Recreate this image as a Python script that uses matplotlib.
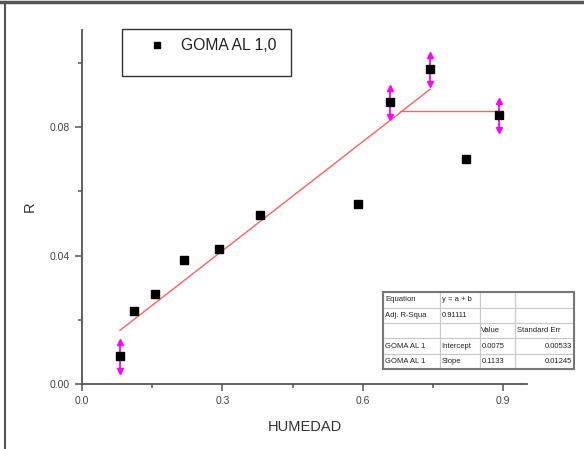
import matplotlib
matplotlib.use("Agg")
import matplotlib.pyplot as plt
from matplotlib.patches import Rectangle
from matplotlib.lines import Line2D

plt.rcParams['font.family'] = ['Liberation Sans', 'DejaVu Sans']

# data
humedad = [0.081, 0.111, 0.156, 0.218, 0.293, 0.381, 0.590, 0.659, 0.744, 0.821, 0.892]
r_vals = [0.0087, 0.0227, 0.0280, 0.0386, 0.0420, 0.0526, 0.0560, 0.0878, 0.0980, 0.0700, 0.0837]
err_x = [0.081, 0.659, 0.744, 0.892]
err_y = [0.0087, 0.0878, 0.0980, 0.0837]
err_size = [0.0045, 0.0045, 0.0045, 0.0045]

intercept = 0.0075
slope = 0.1133
fit_x = [0.081, 0.744]
plateau_x = [0.68, 0.892]
plateau_y = 0.085

table_rows = [
    ["Equation", "y = a + b", "", ""],
    ["Adj. R-Squa", "0.91111", "", ""],
    ["", "", "Value", "Standard Err"],
    ["GOMA AL 1", "Intercept", "0.0075", "0.00533"],
    ["GOMA AL 1", "Slope", "0.1133", "0.01245"],
]

grey = '#555555'
fig = plt.figure(figsize=(5.84, 4.49), dpi=100)
ax = fig.add_axes([0.1404, 0.1448, 0.762, 0.788])

# fit lines
ax.plot(fit_x, [intercept + slope * x for x in fit_x], color='#ff6060', lw=1.0, zorder=2)
ax.plot(plateau_x, [plateau_y, plateau_y], color='#ff6060', lw=1.0, zorder=2)

# error bars with arrow heads
for x, y, e in zip(err_x, err_y, err_size):
    ax.plot([x, x], [y - e, y + e], color='#ff00ff', lw=1.3, zorder=3)
    ax.plot(x, y + e, marker='^', color='#ff00ff', ms=4, zorder=3)
    ax.plot(x, y - e, marker='v', color='#ff00ff', ms=4, zorder=3)

ax.plot(humedad, r_vals, 's', color='black', ms=5.3, zorder=4)

ax.set_xlim(0, 0.951)
ax.set_ylim(0, 0.1102)
ax.set_xticks([0.0, 0.3, 0.6, 0.9])
ax.set_xticklabels(['0.0', '0.3', '0.6', '0.9'])
ax.set_xticks([0.15, 0.45, 0.75], minor=True)
ax.set_yticks([0.0, 0.04, 0.08])
ax.set_yticklabels(['0.00', '0.04', '0.08'])
ax.set_yticks([0.02, 0.06, 0.10], minor=True)
for s in ['top', 'right']:
    ax.spines[s].set_visible(False)
for s in ['left', 'bottom']:
    ax.spines[s].set_color(grey)
    ax.spines[s].set_linewidth(1.3)
ax.tick_params(which='major', length=5, width=1.1, color=grey, labelsize=7.5,
               labelcolor='#444444', pad=4)
ax.tick_params(which='minor', length=3, width=1.1, color=grey)
ax.set_xlabel('HUMEDAD', fontsize=10.5, color='#333333', labelpad=10)
ax.set_ylabel('R', fontsize=10.5, color='#333333', labelpad=9)

# legend box
ax.add_patch(Rectangle((0.090, 0.870), 0.380, 0.133, transform=ax.transAxes,
                       fill=False, edgecolor='#333333', lw=1.0, clip_on=False))
ax.plot([0.168], [0.958], 's', color='black', ms=5, transform=ax.transAxes, clip_on=False)
ax.text(0.222, 0.958, 'GOMA AL 1,0', transform=ax.transAxes, fontsize=11.3,
        color='#222222', va='center', ha='left')

# results table
tax = fig.add_axes([0.656, 0.178, 0.327, 0.171])
tax.axis('off')
tbl = tax.table(cellText=table_rows, colWidths=[0.298, 0.209, 0.183, 0.309],
                bbox=[0, 0, 1, 1], cellLoc='left')
tbl.auto_set_font_size(False)
for (r, c), cell in tbl.get_celld().items():
    cell.set_edgecolor('#c8c8c8')
    cell.set_linewidth(0.8)
    cell.get_text().set_fontsize(5.5)
    cell.get_text().set_color('#222222')
    cell.PAD = 0.04
    if c == 3 and r >= 3:
        cell.get_text().set_ha('right')
        cell._loc = 'right'
tax.add_patch(Rectangle((0, 0), 1, 1, transform=tax.transAxes, fill=False,
                        edgecolor='#777777', lw=1.5, clip_on=False))

# outer frame lines
fig.add_artist(Line2D([0, 1], [0.995, 0.995], transform=fig.transFigure, color='#555555', lw=2.5))
fig.add_artist(Line2D([0.009, 0.009], [0, 0.995], transform=fig.transFigure, color='#555555', lw=1.5))

fig.savefig('out.png', dpi=100)
